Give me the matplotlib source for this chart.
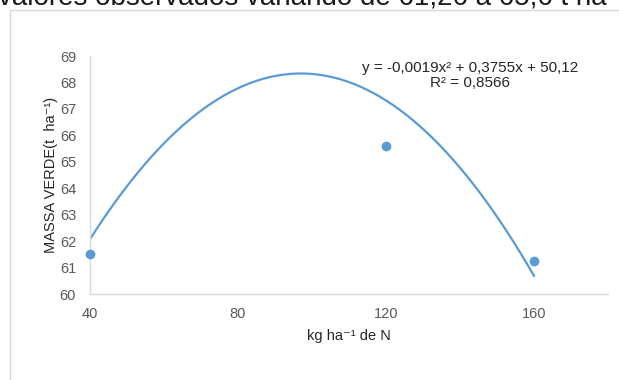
import matplotlib.pyplot as plt
import numpy as np
from matplotlib.patches import Rectangle

plt.rcParams['font.family'] = ['Liberation Sans', 'DejaVu Sans']

# doses de N (kg/ha) e massa verde (t/ha); o ponto de 80 fica acima do eixo
doses = np.array([40, 80, 120, 160])
massa = np.array([61.5, 69.5, 65.6, 61.26])
xticks = [40, 80, 120, 160]
yticks = list(range(60, 70))
equacao = 'y = -0,0019x² + 0,3755x + 50,12'
r2 = 'R² = 0,8566'

azul = '#5B9BD5'
cinza = '#D9D9D9'

fig = plt.figure(figsize=(6.19, 3.8), dpi=100)

# moldura do grafico (cortada pela imagem)
fig.patches.append(Rectangle((10 / 619, -0.2), 1.2, 1 - 10 / 380 + 0.2,
                             transform=fig.transFigure, fill=False,
                             edgecolor=cinza, linewidth=1))

# texto do documento cortado no topo
fig.text(-2 / 619, 1 - 5 / 380, 'valores observados variando de 61,26 a 65,6 t ha⁻¹',
         fontsize=20, color='#1a1a1a', ha='left', va='baseline')

ax = fig.add_axes([90 / 619, 1 - 294 / 380, (608 - 90) / 619, (294 - 56) / 380])

coef = np.polyfit(doses, massa, 2)
xs = np.linspace(40, 160, 200)
ax.plot(xs, np.polyval(coef, xs), color=azul, linewidth=1.6, zorder=2)
vis = massa <= 69
ax.plot(doses[vis], massa[vis], 'o', color=azul, markersize=6, zorder=3, clip_on=False)

ax.set_xlim(40, 180)
ax.set_ylim(60, 69)
ax.set_xticks(xticks)
ax.set_yticks(yticks)
ax.tick_params(length=0, labelsize=10.5, colors='#595959')
ax.tick_params(axis='y', pad=10)
ax.tick_params(axis='x', pad=9)
for s in ['top', 'right']:
    ax.spines[s].set_visible(False)
for s in ['left', 'bottom']:
    ax.spines[s].set_color(cinza)
    ax.spines[s].set_linewidth(1)

ax.set_xlabel('kg ha⁻¹ de N', fontsize=10.5, color='#262626', labelpad=6)
ax.set_ylabel('MASSA VERDE(t  ha⁻¹)', fontsize=10.5, color='#262626', labelpad=1)

ax.text(142.7, 68.55, equacao, ha='center', va='center', fontsize=11, color='#262626')
ax.text(142.7, 67.98, r2, ha='center', va='center', fontsize=11, color='#262626')

fig.savefig('out.png', dpi=100)
